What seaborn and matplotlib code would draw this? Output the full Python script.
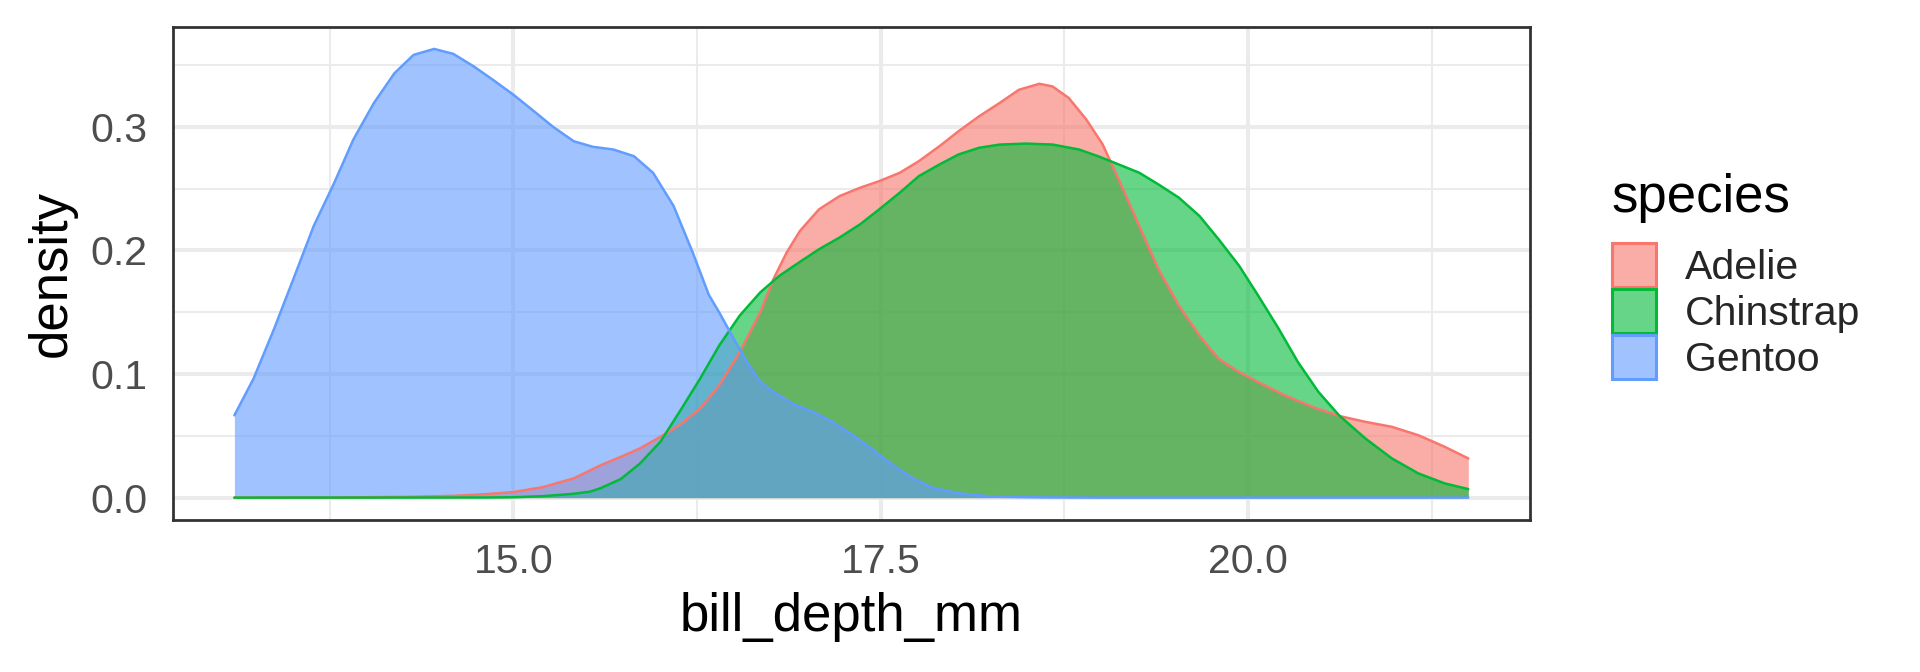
import matplotlib
matplotlib.use("Agg")
import matplotlib.pyplot as plt
import seaborn as sns
from matplotlib.patches import Patch
from matplotlib.colors import to_rgba

# ---------------- data ----------------
species = ["Adelie", "Chinstrap", "Gentoo"]
colors = ["#F8766D", "#00BA38", "#619CFF"]

adelie_x = [13.10, 13.80, 14.30, 14.60, 14.80, 15.00, 15.20, 15.41, 15.59, 15.73,
            15.86, 16.00, 16.13, 16.27, 16.40, 16.54, 16.68, 16.77, 16.86, 16.95,
            17.08, 17.22, 17.36, 17.49, 17.63, 17.76, 17.90, 18.03, 18.17, 18.31,
            18.44, 18.58, 18.67, 18.78, 18.90, 19.01, 19.12, 19.26, 19.39, 19.53,
            19.67, 19.80, 19.94, 20.07, 20.25, 20.44, 20.62, 20.80, 20.98, 21.16,
            21.34, 21.50]
adelie_y = [0.0, 0.0001, 0.0007, 0.0015, 0.0027, 0.0045, 0.0085, 0.0156, 0.0260, 0.0330,
            0.0398, 0.0492, 0.0586, 0.0720, 0.0908, 0.1177, 0.1500, 0.1769, 0.1984, 0.2158,
            0.2333, 0.2440, 0.2508, 0.2561, 0.2629, 0.2723, 0.2844, 0.2965, 0.3086, 0.3194,
            0.3300, 0.3349, 0.3327, 0.3234, 0.3059, 0.2860, 0.2575, 0.2198, 0.1850, 0.1553,
            0.1311, 0.1123, 0.1016, 0.0935, 0.0828, 0.0734, 0.0661, 0.0613, 0.0573, 0.0505,
            0.0411, 0.0317]

chinstrap_x = [13.10, 14.80, 15.00, 15.20, 15.40, 15.52, 15.59, 15.73, 15.86, 16.00,
               16.13, 16.27, 16.40, 16.54, 16.68, 16.81, 16.95, 17.08, 17.22, 17.36,
               17.49, 17.63, 17.76, 17.90, 18.03, 18.17, 18.31, 18.49, 18.67, 18.85,
               18.99, 19.12, 19.26, 19.39, 19.53, 19.67, 19.80, 19.94, 20.07, 20.21,
               20.34, 20.48, 20.62, 20.80, 20.98, 21.16, 21.34, 21.50]
chinstrap_y = [0.0, 0.0001, 0.0003, 0.0012, 0.0030, 0.0048, 0.0075, 0.0150, 0.0275, 0.0452,
               0.0694, 0.0962, 0.1230, 0.1473, 0.1661, 0.1795, 0.1908, 0.2010, 0.2105, 0.2212,
               0.2333, 0.2468, 0.2602, 0.2696, 0.2777, 0.2831, 0.2857, 0.2865, 0.2857, 0.2817,
               0.2758, 0.2696, 0.2629, 0.2535, 0.2427, 0.2279, 0.2091, 0.1876, 0.1634, 0.1365,
               0.1097, 0.0855, 0.0666, 0.0478, 0.0317, 0.0196, 0.0115, 0.0069]

gentoo_x = [13.10, 13.23, 13.37, 13.51, 13.64, 13.78, 13.91, 14.05, 14.19, 14.32,
            14.46, 14.59, 14.73, 14.86, 15.00, 15.14, 15.27, 15.41, 15.54, 15.68,
            15.82, 15.95, 16.09, 16.22, 16.33, 16.40, 16.50, 16.59, 16.68, 16.77,
            16.90, 17.04, 17.17, 17.31, 17.45, 17.58, 17.72, 17.85, 18.03, 18.26,
            18.60, 19.00, 20.00, 21.00, 21.50]
gentoo_y = [0.0666, 0.0962, 0.1365, 0.1795, 0.2198, 0.2548, 0.2898, 0.3194, 0.3435, 0.3583,
            0.3631, 0.3591, 0.3489, 0.3381, 0.3260, 0.3126, 0.3000, 0.2884, 0.2839, 0.2817,
            0.2763, 0.2629, 0.2360, 0.1984, 0.1640, 0.1500, 0.1285, 0.1097, 0.0935, 0.0855,
            0.0760, 0.0694, 0.0613, 0.0505, 0.0384, 0.0263, 0.0156, 0.0081, 0.0035, 0.0008,
            0.0002, 0.0, 0.0, 0.0, 0.0]

x_ticks = [15.0, 17.5, 20.0]
x_minor = [13.75, 16.25, 18.75, 21.25]
y_ticks = [0.0, 0.1, 0.2, 0.3]
y_minor = [0.05, 0.15, 0.25, 0.35]
x_label = "bill_depth_mm"
y_label = "density"
legend_title = "species"

# ---------------- styling ----------------
sns.set_style("white")
plt.rcParams['font.family'] = ['Liberation Sans', 'DejaVu Sans']

W, H, DPI = 1920, 672, 100
fig = plt.figure(figsize=(W / DPI, H / DPI), dpi=DPI)
L, R, T, B = 172.7, 1530.0, 27.3, 520.0
ax = fig.add_axes([L / W, 1 - B / H, (R - L) / W, (B - T) / H])

series = [(adelie_x, adelie_y), (chinstrap_x, chinstrap_y), (gentoo_x, gentoo_y)]
for (xs, ys), col in zip(series, colors):
    ax.fill_between(xs, ys, 0, color=col, alpha=0.6, lw=0, zorder=2)
    sns.lineplot(x=xs, y=ys, color=col, lw=1.8, ax=ax, estimator=None,
                 sort=False, legend=False, zorder=3)

ax.set_xlim(12.68, 21.92)
ax.set_ylim(-0.0181, 0.3806)
ax.set_xticks(x_ticks)
ax.set_xticks(x_minor, minor=True)
ax.set_yticks(y_ticks)
ax.set_yticks(y_minor, minor=True)
ax.set_xticklabels([f"{v:.1f}" for v in x_ticks])
ax.set_yticklabels([f"{v:.1f}" for v in y_ticks])

ax.grid(which='major', color='#EBEBEB', lw=2.9, zorder=0)
ax.grid(which='minor', color='#EBEBEB', lw=1.45, zorder=0)
ax.set_axisbelow(True)

for s in ax.spines.values():
    s.set_color('#333333')
    s.set_linewidth(2.0)
    s.set_zorder(5)

ax.tick_params(which='major', length=9.5, width=2.9, color='#333333',
               labelcolor='#4D4D4D', labelsize=29.5)
ax.tick_params(axis='x', which='major', pad=7)
ax.tick_params(axis='y', which='major', pad=8.5)
ax.tick_params(which='minor', length=0)

ax.set_xlabel(x_label, fontsize=38, color='black')
ax.set_ylabel(y_label, fontsize=38, color='black')
ax.xaxis.set_label_coords(0.5, -(592 - B) / (B - T))
ax.yaxis.set_label_coords(-(L - 77) / (R - L), 0.5)

# legend
fig.text(1611.7 / W, 1 - 211.7 / H, legend_title, fontsize=38,
         ha='left', va='baseline', color='black')
handles = [Patch(facecolor=to_rgba(c, 0.6), edgecolor=c, lw=2.2) for c in colors]
fig.legend(handles, species, loc='upper left',
           bbox_to_anchor=(1612 / W, 1 - 243 / H), frameon=False,
           borderpad=0, borderaxespad=0, fontsize=29.5,
           handlelength=1.07, handleheight=1.27, handletextpad=0.7,
           labelspacing=0.05)

fig.savefig("out.png", dpi=DPI)
